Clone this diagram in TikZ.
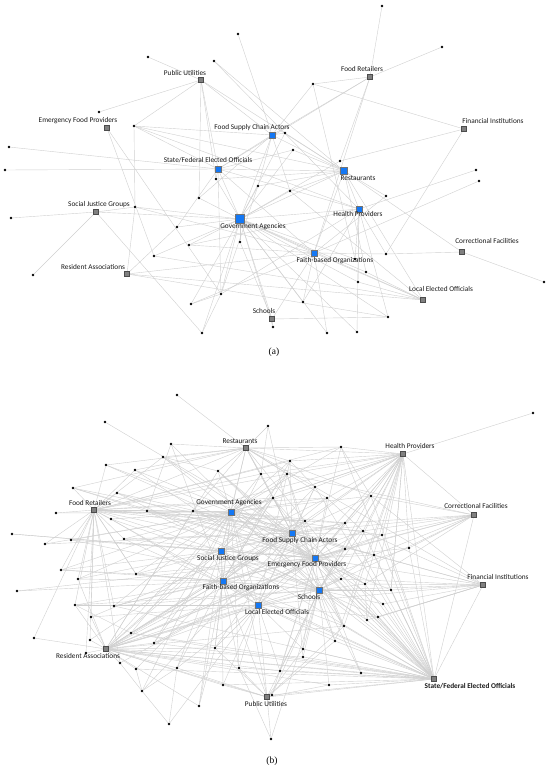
\documentclass[tikz,border=0pt]{standalone}
\usepackage{fontspec}
\setmainfont{Carlito}
\newfontfamily\capfont{Liberation Serif}
\usetikzlibrary{backgrounds}
\pgfdeclarelayer{bottom}
\pgfsetlayers{bottom,background,main}
\definecolor{hubblue}{RGB}{20,120,245}
\definecolor{edgegray}{RGB}{208,208,208}
\newcommand\mylnk[2]{\foreach \t in {#2}{\draw[edge] (#1) -- (\t);}}
\begin{document}
\begin{tikzpicture}[x=1pt,y=-1pt,
  edge/.style={draw=edgegray,line width=0.4pt},
  dot/.style={circle,fill=black,inner sep=0pt,minimum size=2.8pt},
  bsq/.style={rectangle,fill=hubblue,draw=black!55,line width=0.4pt,inner sep=0pt,minimum size=6pt},
  gsq/.style={rectangle,fill=black!50,draw=black!70,line width=0.4pt,inner sep=0pt,minimum size=5pt},
  lbl/.style={font=\fontsize{7.3}{8}\selectfont,text=black!90,inner sep=0pt},
  captext/.style={font=\capfont\fontsize{9.5}{11}\selectfont,inner sep=0pt}]
\useasboundingbox (0,0) rectangle (550,770);
\begin{pgfonlayer}{bottom}
\fill[white] (0,0) rectangle (550,770);
\end{pgfonlayer}

% ================= (a) =================
\node[gsq] (pu) at (201,80) {};
\node[gsq] (efp) at (107,128) {};
\node[bsq] (fsca) at (272,135) {};
\node[bsq] (sfo) at (218,169) {};
\node[bsq,minimum size=9pt] (ga) at (240,219) {};
\node[gsq] (fr) at (370,77) {};
\node[gsq] (fi) at (464,129) {};
\node[bsq,minimum size=7pt] (rest) at (344,171) {};
\node[bsq] (hp) at (359,209) {};
\node[bsq] (fbo) at (314,253) {};
\node[gsq] (cf) at (462,252) {};
\node[gsq] (leo) at (423,300) {};
\node[gsq] (sjg) at (96,212) {};
\node[gsq] (ra) at (127,274) {};
\node[gsq] (sch) at (272,319) {};

\node[lbl] (lpu) at (185,73) {Public Utilities};
\node[lbl] (lefp) at (78,121) {Emergency Food Providers};
\node[lbl] (lfsca) at (252,128) {Food Supply Chain Actors};
\node[lbl] (lsfo) at (208,160) {State/Federal Elected Officials};
\node[lbl] (lga) at (253,227) {Government Agencies};
\node[lbl] (lfr) at (362,69) {Food Retailers};
\node[lbl] (lfi) at (493,121) {Financial Institutions};
\node[lbl] (lrest) at (358,178) {Restaurants};
\node[lbl] (lhp) at (358,214) {Health Providers};
\node[lbl] (lfbo) at (335,261) {Faith-based Organizations};
\node[lbl] (lcf) at (487,241) {Correctional Facilities};
\node[lbl] (lleo) at (441,289) {Local Elected Officials};
\node[lbl] (lsjg) at (99,205) {Social Justice Groups};
\node[lbl] (lra) at (93,267) {Resident Associations};
\node[lbl] (lsch) at (264,311) {Schools};

\foreach \n/\x/\y in {1/238/34,2/148/57,3/214/61,4/99/112,5/134/126,6/9/147,7/382/6,8/442/47,
  9/313/84,10/285/133,11/293/150,12/340/161,13/216/179,14/258/186,15/290/191,16/199/198,
  17/135/207,18/177/227,19/5/170,20/11/218,21/240/242,22/189/245,23/154/256,24/33/275,
  25/221/294,26/191/304,27/202/333,28/273/327,29/303/302,30/327/333,31/476/170,32/479/181,
  33/386/196,34/386/254,35/355/259,36/366/272,37/358/282,38/544/282,39/388/317,40/357/332}
  \node[dot] (a\n) at (\x,\y) {};

\begin{pgfonlayer}{background}
\mylnk{a1}{fsca}
\mylnk{a2}{pu}
\mylnk{a3}{rest,hp}
\mylnk{a4}{pu}
\mylnk{a5}{pu,fsca,rest,hp,sfo,a17}
\mylnk{a6}{sfo}
\mylnk{a19}{sfo}
\mylnk{efp}{a23,a25}
\mylnk{sjg}{a20,a24,ga,a27,a17}
\mylnk{ra}{a17,a18,leo,a39,fbo}
\mylnk{a22}{ga,fbo,hp}
\mylnk{a23}{ga,leo}
\mylnk{a18}{ga,sfo}
\mylnk{a16}{pu,ga,fsca}
\mylnk{a13}{sfo,pu,ga,rest}
\mylnk{a14}{ga,fsca,rest,a25}
\mylnk{a15}{ga,fsca,rest,leo}
\mylnk{a21}{ga,sch}
\mylnk{a25}{ga,hp,sfo}
\mylnk{a26}{fbo,ga,a25}
\mylnk{a27}{ga,a25}
\mylnk{a28}{ga,sch}
\mylnk{a29}{hp,ga,fbo}
\mylnk{a30}{ga,fbo}
\mylnk{a40}{ga,hp}
\mylnk{a39}{sch,hp,ga}
\mylnk{a37}{leo,ga,hp}
\mylnk{a36}{leo,ga,rest}
\mylnk{a35}{hp,ga,a9}
\mylnk{a34}{cf,hp,fbo,fi}
\mylnk{a33}{rest,fbo}
\mylnk{a31}{hp}
\mylnk{a32}{fbo}
\mylnk{a38}{cf}
\mylnk{a7}{fr}
\mylnk{a8}{fr}
\mylnk{a9}{fr,fi,fsca}
\mylnk{a10}{fsca,ga,rest}
\mylnk{a11}{ga,rest,sfo}
\mylnk{a12}{fi,fr,ga}
\mylnk{a17}{ga,fbo}
\mylnk{fr}{fsca,sfo,fbo}
\mylnk{pu}{sfo,rest,fsca}
\mylnk{fsca}{sfo,ga,rest}
\mylnk{sfo}{ga,rest,hp,fbo}
\mylnk{ga}{rest,hp,fbo,leo,sch}
\mylnk{rest}{hp,cf,leo,fbo}
\mylnk{fbo}{leo,sch}
\end{pgfonlayer}

\node[captext] (capa) at (274,352) {(a)};

% ================= (b) =================
\node[gsq] (rest2) at (246,448) {};
\node[gsq] (fr2) at (94,510) {};
\node[bsq] (ga2) at (231,512) {};
\node[bsq] (sjg2) at (221,551) {};
\node[gsq] (hp2) at (403,454) {};
\node[gsq] (cf2) at (474,515) {};
\node[bsq] (fsca2) at (292,533) {};
\node[bsq] (efp2) at (315,558) {};
\node[bsq] (fbo2) at (223,581) {};
\node[bsq] (sch2) at (319,590) {};
\node[bsq] (leo2) at (258,605) {};
\node[gsq] (fi2) at (483,585) {};
\node[gsq] (ra2) at (106,649) {};
\node[gsq] (pu2) at (267,697) {};
\node[gsq] (sfo2) at (434,679) {};

\node[lbl] (lrest2) at (240,441) {Restaurants};
\node[lbl] (lfr2) at (90,503) {Food Retailers};
\node[lbl] (lga2) at (229,503) {Government Agencies};
\node[lbl] (lsjg2) at (228,559) {Social Justice Groups};
\node[lbl] (lhp2) at (410,446) {Health Providers};
\node[lbl] (lcf2) at (476,506) {Correctional Facilities};
\node[lbl] (lfsca2) at (300,541) {Food Supply Chain Actors};
\node[lbl] (lefp2) at (307,565) {Emergency Food Providers};
\node[lbl] (lfbo2) at (241,588) {Faith-based Organizations};
\node[lbl] (lsch2) at (309,597) {Schools};
\node[lbl] (lleo2) at (277,612) {Local Elected Officials};
\node[lbl] (lfi2) at (498,577) {Financial Institutions};
\node[lbl] (lra2) at (88,656) {Resident Associations};
\node[lbl] (lpu2) at (266,704) {Public Utilities};
\node[lbl,font=\bfseries\fontsize{7.3}{8}\selectfont] (lsfo2) at (470,686) {State/Federal Elected Officials};

\foreach \n/\x/\y in {1/177/395,2/105/422,3/268/426,4/171/444,5/163/457,6/106/465,7/135/470,
  8/218/471,9/261/474,10/73/488,11/117/493,12/273/498,13/56/513,14/147/511,15/193/511,
  16/111/519,17/12/534,18/71/540,19/124/539,20/45/544,21/533/413,22/341/447,23/290/461,
  24/287/474,25/315/487,26/327/498,27/371/496,28/305/521,29/345/523,30/363/531,31/382/535,
  32/345/549,33/409/548,34/374/555,35/341/579,36/61/570,37/78/579,38/136/574,39/17/591,
  40/75/605,41/114/606,42/91/617,43/34/638,44/131/633,45/90/640,46/154/643,47/86/653,
  48/215/648,49/120/663,50/136/669,51/177/668,52/239/668,53/223/685,54/142/691,55/199/706,
  56/169/724,57/271/739,58/272/695,59/365/584,60/391/590,61/383/604,62/378/617,63/367/620,
  64/344/626,65/335/641,66/303/649,67/303/657,68/280/671,69/361/673,70/329/685}
  \node[dot] (b\n) at (\x,\y) {};

\begin{pgfonlayer}{background}
\mylnk{b1}{rest2}
\mylnk{b2}{fsca2}
\mylnk{b3}{rest2,fsca2,b9}
\mylnk{b4}{rest2,fbo2,sch2,b14}
\mylnk{b5}{rest2,ga2,efp2,fr2,b8}
\mylnk{b6}{rest2,fr2,ga2,efp2}
\mylnk{b7}{rest2,fsca2,sch2,fr2}
\mylnk{b8}{rest2,ga2,fsca2,efp2,sfo2}
\mylnk{b9}{rest2,ga2,fsca2,sjg2,hp2}
\mylnk{b10}{fr2,rest2,fsca2,efp2,b14}
\mylnk{b11}{fr2,efp2,fsca2,sch2}
\mylnk{b12}{rest2,ga2,fsca2,efp2,fbo2,sjg2}
\mylnk{b13}{fr2,ga2}
\mylnk{b14}{fr2,ga2,efp2,sch2,fsca2}
\mylnk{b15}{ga2,rest2,fsca2,fr2,efp2}
\mylnk{b16}{fr2,sch2,ga2,leo2}
\mylnk{b17}{efp2,sjg2}
\mylnk{b18}{fr2,ga2,efp2,sch2}
\mylnk{b19}{fr2,ga2,fsca2,efp2,sfo2}
\mylnk{b20}{fr2,fsca2,ga2}
\mylnk{b21}{hp2}
\mylnk{b22}{hp2,rest2,sfo2,ga2,efp2,b27}
\mylnk{b23}{hp2,rest2,ga2,fsca2,fbo2,leo2,b25}
\mylnk{b24}{hp2,ga2,sjg2,efp2,sch2,fbo2}
\mylnk{b25}{hp2,ga2,fsca2,fbo2,leo2,sfo2}
\mylnk{b26}{hp2,rest2,ga2,efp2,sjg2,fbo2,b30}
\mylnk{b27}{hp2,ga2,fsca2,efp2,sch2}
\mylnk{b28}{ga2,fsca2,efp2,fbo2,sjg2,hp2}
\mylnk{b29}{hp2,fsca2,efp2,sjg2,cf2,ga2}
\mylnk{b30}{hp2,cf2,efp2,fbo2,sch2}
\mylnk{b31}{hp2,fsca2,sfo2,efp2,ga2}
\mylnk{b32}{efp2,fsca2,sch2,cf2,fbo2}
\mylnk{b33}{hp2,cf2,sfo2,efp2}
\mylnk{b34}{efp2,sch2,fi2,fsca2,ga2}
\mylnk{b35}{sch2,efp2,fi2,sfo2,fbo2}
\mylnk{b36}{fr2,ga2,sjg2,fbo2,b38}
\mylnk{b37}{fr2,ga2,fbo2,ra2,sjg2}
\mylnk{b38}{fr2,ga2,sjg2,efp2,fbo2,sch2}
\mylnk{b39}{fbo2,efp2}
\mylnk{b40}{fr2,ra2,fbo2,sch2,leo2,b44}
\mylnk{b41}{fr2,fbo2,ga2,efp2,sch2}
\mylnk{b42}{ra2,fr2,fsca2,leo2}
\mylnk{b43}{ra2,fr2}
\mylnk{b44}{ra2,ga2,fsca2,fbo2,b48}
\mylnk{b45}{ra2,fr2,sjg2}
\mylnk{b46}{ra2,ga2,sjg2,leo2,efp2}
\mylnk{b47}{ra2,fr2}
\mylnk{b48}{ra2,ga2,fbo2,leo2,fsca2}
\mylnk{b49}{ra2,b54,fr2,efp2}
\mylnk{b50}{ra2,fbo2,sfo2,b54}
\mylnk{b51}{ra2,fbo2,sjg2,leo2,b56,b54}
\mylnk{b52}{ra2,fbo2,sfo2,ga2,leo2}
\mylnk{b53}{pu2,sjg2,ra2,sfo2,leo2}
\mylnk{b54}{ga2,fsca2}
\mylnk{b55}{b48,ra2,fbo2,sjg2}
\mylnk{b56}{b54,leo2}
\mylnk{b57}{pu2,sch2,b52}
\mylnk{b58}{pu2,sch2,efp2,sfo2}
\mylnk{b59}{sch2,efp2,fi2,sfo2,fsca2,ga2,b63}
\mylnk{b60}{fi2,sfo2,sch2,efp2,hp2}
\mylnk{b61}{fi2,sch2,sfo2,efp2}
\mylnk{b62}{fi2,sfo2,sch2,leo2}
\mylnk{b63}{fi2,sfo2,efp2,sch2,hp2}
\mylnk{b64}{sch2,sfo2,efp2,fsca2,fbo2}
\mylnk{b65}{sch2,sfo2,fsca2,leo2,hp2}
\mylnk{b66}{sch2,sfo2,efp2,leo2,pu2}
\mylnk{b67}{sfo2,sch2,fsca2,ra2}
\mylnk{b68}{sfo2,leo2,ra2,sch2,efp2}
\mylnk{b69}{sfo2,sch2,efp2,ra2}
\mylnk{b70}{sfo2,pu2,sch2,ra2}
\mylnk{ga2}{sjg2,fsca2,efp2,fbo2,sch2,leo2,rest2,fr2,hp2,sfo2,ra2,pu2}
\mylnk{sjg2}{fsca2,efp2,fbo2,sch2,leo2,fr2,rest2,ra2,sfo2}
\mylnk{fsca2}{efp2,fbo2,sch2,leo2,hp2,fi2,cf2,sfo2,ra2,rest2,fr2}
\mylnk{efp2}{fbo2,sch2,leo2,cf2,fi2,sfo2,ra2,hp2,fr2}
\mylnk{fbo2}{sch2,leo2,fr2,ra2,pu2,sfo2}
\mylnk{sch2}{leo2,fi2,sfo2,hp2,cf2,ra2,pu2}
\mylnk{leo2}{ra2,pu2,sfo2,fi2,hp2}
\mylnk{rest2}{hp2,fr2,b24,b25,b27,b28}
\mylnk{hp2}{sfo2,cf2,b12,b15,b35,b32,b59,b64,b60}
\mylnk{cf2}{sfo2,b27,b31,b34,b59,b24}
\mylnk{fi2}{sfo2,b27,b30,b62,b25}
\mylnk{ra2}{sfo2,pu2,b28,b29,b31,b32,b33,b64,b35,b12,b15,b8}
\mylnk{sfo2}{b27,b29,b30,b34,b12,b28,b41,b44,b46,b48}
\mylnk{fr2}{b22,b23,b24,b26,b28,b29,b30,b12,b9,b38}
\mylnk{pu2}{sfo2,b48,b51,b52,b64,b65}
\end{pgfonlayer}

\node[captext] (capb) at (272,761) {(b)};
\end{tikzpicture}
\end{document}
